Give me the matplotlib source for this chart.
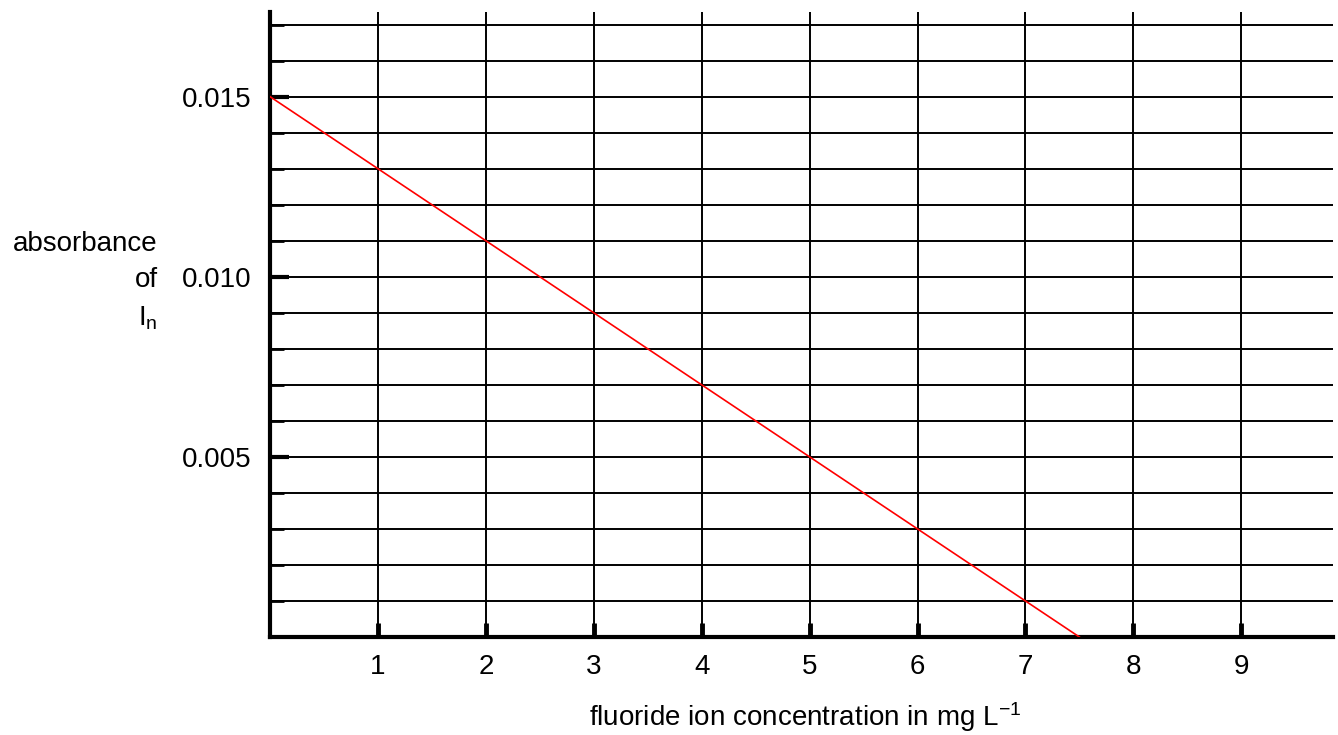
import matplotlib
matplotlib.use('Agg')
import matplotlib.pyplot as plt
import matplotlib.ticker as mticker

plt.rcParams.update({
    'font.family': ['Liberation Sans', 'DejaVu Sans'],
    'mathtext.default': 'regular',
    'font.size': 20,
})

# Data
conc = [0.0, 7.5]            # fluoride ion concentration, mg L^-1
absorb = [0.015, 0.0]        # absorbance of In
x_ticks = [1, 2, 3, 4, 5, 6, 7, 8, 9]
y_ticks = [0.005, 0.010, 0.015]
y_labels = ['0.005', '0.010', '0.015']

fig = plt.figure(figsize=(13.38, 7.35), dpi=100)
ax = fig.add_axes([0.2018, 0.1333, 0.7945, 0.8504])

ax.plot(conc, absorb, color='#ff0000', linewidth=1.2, zorder=3)

ax.set_xlim(0, 9.85)
ax.set_ylim(0, 0.01735)

ax.set_xticks(x_ticks)
ax.set_xticklabels([str(t) for t in x_ticks])
ax.set_yticks(y_ticks)
ax.set_yticklabels(y_labels)
ax.yaxis.set_minor_locator(mticker.MultipleLocator(0.001))

ax.grid(True, axis='x', which='major', color='black', linewidth=1.4)
ax.grid(True, axis='y', which='both', color='black', linewidth=1.4)
ax.set_axisbelow(True)

ax.tick_params(axis='x', which='major', direction='in', length=10, width=3.5,
               pad=12, labelsize=20, colors='black')
ax.tick_params(axis='y', which='major', direction='in', length=14, width=3,
               pad=13, labelsize=20, colors='black')
ax.tick_params(axis='y', which='minor', direction='in', length=10, width=2)

for side in ['top', 'right']:
    ax.spines[side].set_visible(False)
ax.spines['left'].set_linewidth(3)
ax.spines['bottom'].set_linewidth(3)

fig.text(0.6016, 0.012, 'fluoride ion concentration in mg L$^{-1}$',
         ha='center', va='baseline', fontsize=20)
fig.text(0.118, 0.668, 'absorbance', ha='right', va='center', fontsize=20)
fig.text(0.118, 0.619, 'of', ha='right', va='center', fontsize=20)
fig.text(0.118, 0.567, 'I$_{n}$', ha='right', va='center', fontsize=20)

fig.savefig('out.png', dpi=100)
